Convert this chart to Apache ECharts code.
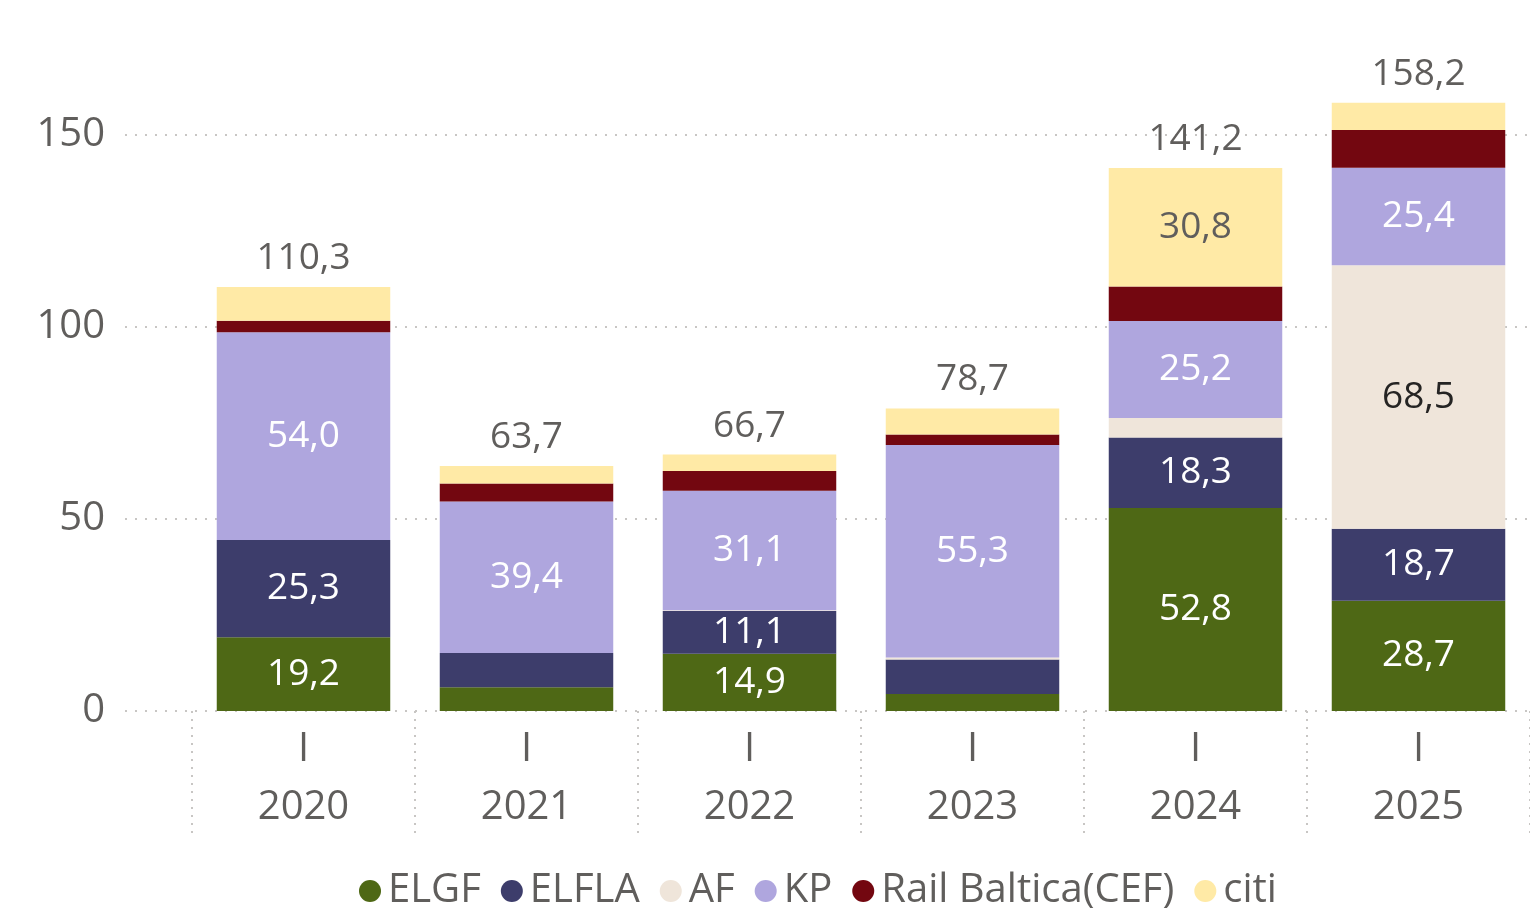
<!DOCTYPE html>
<html>
<head>
<meta charset="utf-8">
<script src="https://cdn.jsdelivr.net/npm/echarts@6/dist/echarts.min.js"></script>
<style>
  html, body { margin: 0; padding: 0; background: #fff; overflow: hidden; }
  /* shifted up so the axis max (200) sits above the visible area */
  #chart { width: 1530px; height: 979px; position: relative; top: -60px; }
</style>
</head>
<body>
<div id="chart"></div>
<script>
// data
var years = ['2020', '2021', '2022', '2023', '2024', '2025']
var quarter = 'I'
var elgf = [19.2, 6.2, 14.9, 4.4, 52.8, 28.7]
var elfla = [25.3, 8.9, 11.1, 9.0, 18.3, 18.7]
var af = [0, 0, 0.2, 0.5, 5.1, 68.5]
var kp = [54.0, 39.4, 31.1, 55.3, 25.2, 25.4]
var rail = [3.0, 4.7, 5.1, 2.7, 9.0, 9.8]
var citi = [8.8, 4.5, 4.3, 6.8, 30.8, 7.1]
var totals = [110.3, 63.7, 66.7, 78.7, 141.2, 158.2]
var yTicks = [0, 50, 100, 150]

var FONT = '"Segoe UI", "Open Sans", "Noto Sans", sans-serif'
var GREY = '#605E5C'
var GRID_TOP = 2
var GRID_BOTTOM = 208

function fmt(v) {
  return v.toFixed(1).replace('.', ',')
}

function seg(name, data, color, labelColor) {
  return {
    name: name,
    type: 'bar',
    stack: 'all',
    xAxisIndex: 1,
    yAxisIndex: 1,
    barCategoryGap: '22.2%',
    data: data,
    itemStyle: { color: color },
    label: {
      show: true,
      position: 'inside',
      color: labelColor,
      fontFamily: FONT,
      fontSize: 37,
      formatter: function(p) {
        return p.value >= 10 ? fmt(p.value) : ''
      }
    }
  }
}

var chart = echarts.init(document.getElementById('chart'))
chart.setOption({
  animation: false,
  textStyle: { fontFamily: FONT },
  grid: [
    { left: 125, right: 0, top: GRID_TOP, bottom: GRID_BOTTOM },
    { left: 192, width: 1343, top: GRID_TOP, bottom: GRID_BOTTOM }
  ],
  legend: {
    left: 354,
    top: 926,
    icon: 'circle',
    itemWidth: 22,
    itemHeight: 22,
    itemGap: 20,
    textStyle: { color: GREY, fontSize: 40, fontFamily: FONT, padding: [0, 0, 0, 2] },
    data: ['ELGF', 'ELFLA', 'AF', 'KP', 'Rail Baltica(CEF)', 'citi']
  },
  xAxis: [
    { gridIndex: 0, type: 'value', show: false },
    {
      gridIndex: 1,
      type: 'category',
      data: years,
      axisLine: { show: false },
      axisTick: {
        show: true,
        alignWithLabel: false,
        interval: 0,
        length: 125,
        lineStyle: { color: '#C8C6C4', type: [2, 6], width: 2 }
      },
      axisLabel: {
        interval: 0,
        margin: 10,
        formatter: function(v) {
          return '{q|' + quarter + '}\n{y|' + v + '}'
        },
        rich: {
          q: { color: GREY, fontSize: 40, fontFamily: FONT, lineHeight: 58 },
          y: { color: GREY, fontSize: 40, fontFamily: FONT, lineHeight: 58 }
        }
      }
    }
  ],
  yAxis: [
    {
      gridIndex: 0,
      type: 'value',
      min: 0,
      max: 200,
      interval: 50,
      axisLine: { show: false },
      axisTick: { show: false },
      axisLabel: {
        color: GREY,
        fontSize: 40,
        fontFamily: FONT,
        margin: 20,
        formatter: function(v) {
          return yTicks.indexOf(v) >= 0 ? String(v) : ''
        }
      },
      splitLine: { lineStyle: { color: '#C8C6C4', type: [2, 8], width: 2 } }
    },
    { gridIndex: 1, type: 'value', min: 0, max: 200, show: false }
  ],
  series: [
    seg('ELGF', elgf, '#4E6815', '#ffffff'),
    seg('ELFLA', elfla, '#3D3D6B', '#ffffff'),
    seg('AF', af, '#EFE5DA', '#252423'),
    seg('KP', kp, '#AFA6DE', '#ffffff'),
    seg('Rail Baltica(CEF)', rail, '#730710', '#ffffff'),
    seg('citi', citi, '#FFEAA6', GREY),
    {
      name: 'total',
      type: 'bar',
      stack: 'all',
      xAxisIndex: 1,
      yAxisIndex: 1,
      data: years.map(function() { return 0 }),
      itemStyle: { color: 'transparent' },
      label: {
        show: true,
        position: 'top',
        distance: 10,
        color: GREY,
        fontSize: 37,
        fontFamily: FONT,
        formatter: function(p) {
          return fmt(totals[p.dataIndex])
        }
      }
    }
  ]
})
</script>
</body>
</html>
